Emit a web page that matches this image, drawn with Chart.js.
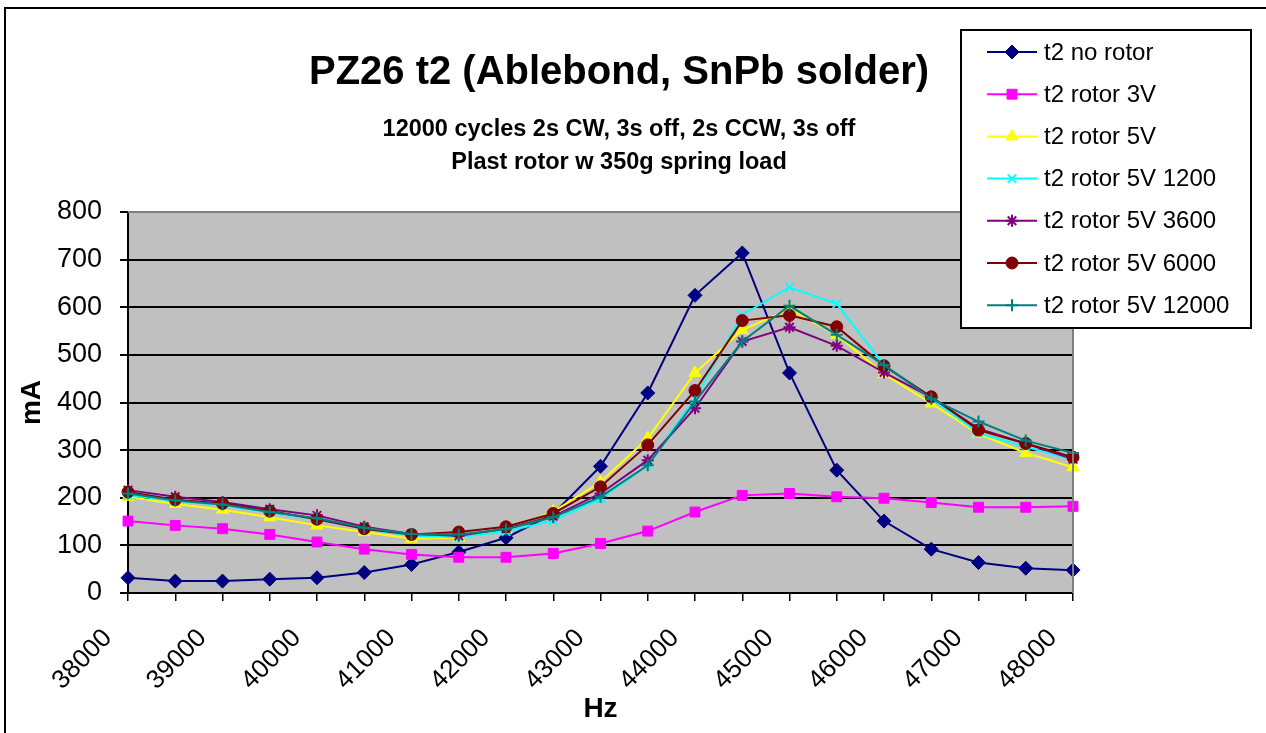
<!DOCTYPE html>
<html lang="en">
<head>
<meta charset="UTF-8">
<title>PZ26 t2 (Ablebond, SnPb solder)</title>
<script src="https://cdn.jsdelivr.net/npm/chart.js@4.4.0/dist/chart.umd.min.js"></script>
<style>
  body { margin: 0; background: #fff; }
  canvas { display: block; }
</style>
</head>
<body>
<canvas id="myChart" width="1266" height="733"></canvas>
<script>
// frequencies (Hz), one point every 500 Hz
const hz = ['38000', '38500', '39000', '39500', '40000', '40500', '41000', '41500', '42000', '42500', '43000',
            '43500', '44000', '44500', '45000', '45500', '46000', '46500', '47000', '47500', '48000'];

// current in mA
const noRotor      = [32, 25, 25, 29, 32, 43, 60, 86, 116, 166, 266, 420, 625, 714, 462, 258, 151, 92, 64, 52, 48];
const rotor3V      = [151, 142, 135, 123, 107, 92, 81, 75, 75, 83, 104, 130, 170, 205, 209, 202, 199, 190, 180, 180, 182];
const rotor5V      = [202, 187, 175, 159, 142, 128, 114, 116, 133, 171, 233, 325, 462, 552, 596, 542, 460, 398, 334, 294, 264];
const rotor5V1200  = [205, 193, 185, 169, 155, 135, 120, 117, 129, 152, 198, 268, 409, 584, 642, 607, 479, 408, 336, 307, 280];
const rotor5V3600  = [216, 202, 191, 176, 163, 139, 124, 120, 135, 161, 209, 279, 388, 528, 558, 519, 463, 411, 345, 314, 281];
const rotor5V6000  = [212, 196, 188, 172, 155, 135, 123, 128, 139, 167, 223, 311, 425, 572, 583, 559, 477, 412, 342, 314, 285];
const rotor5V12000 = [209, 194, 186, 170, 157, 137, 124, 123, 134, 159, 202, 268, 402, 528, 603, 542, 479, 408, 360, 320, 294];

const seriesNames = ['t2 no rotor', 't2 rotor 3V', 't2 rotor 5V', 't2 rotor 5V 1200', 't2 rotor 5V 3600', 't2 rotor 5V 6000', 't2 rotor 5V 12000'];
const seriesData = [noRotor, rotor3V, rotor5V, rotor5V1200, rotor5V3600, rotor5V6000, rotor5V12000];
const seriesColors = ['#000080', '#FF00FF', '#FFFF00', '#00FFFF', '#800080', '#800000', '#008080'];
const seriesMarkers = ['rectRot', 'rect', 'triangle', 'crossRot', 'star', 'circle', 'cross'];
const markerSizes = [7, 7, 7, 6, 6, 6, 6];

const yTicks = [0, 100, 200, 300, 400, 500, 600, 700, 800];

const titleText = 'PZ26 t2 (Ablebond, SnPb solder)';
const subtitleLines = ['12000 cycles 2s CW, 3s off, 2s CCW, 3s off', 'Plast rotor w 350g spring load'];

Chart.defaults.font.family = 'Arial, "Liberation Sans", sans-serif';
Chart.defaults.color = '#000';

const datasets = seriesData.map((d, i) => ({
    label: seriesNames[i],
    data: d,
    borderColor: seriesColors[i],
    backgroundColor: seriesColors[i],
    borderWidth: 2,
    pointStyle: seriesMarkers[i],
    pointRadius: markerSizes[i],
    pointHoverRadius: markerSizes[i],
    pointBorderWidth: (i >= 3 && i != 5) ? 2 : 1,
    tension: 0,
    order: seriesData.length - 1 - i   // later series drawn on top, like the original
}));

// grey plot area, outer frame, titles and legend box
const frame = {
    id: 'frame',
    beforeDraw(chart) {
        const ctx = chart.ctx;
        const a = chart.chartArea;
        ctx.save();
        ctx.fillStyle = '#fff';
        ctx.fillRect(0, 0, chart.width, chart.height);
        ctx.fillStyle = '#C0C0C0';
        ctx.fillRect(a.left, a.top, a.right - a.left, a.bottom - a.top);
        ctx.restore();
    },
    afterDatasetsDraw(chart) {
        const ctx = chart.ctx;
        const a = chart.chartArea;
        ctx.save();
        // plot border on top/right
        ctx.strokeStyle = '#808080';
        ctx.lineWidth = 2;
        ctx.beginPath();
        ctx.moveTo(a.left, a.top);
        ctx.lineTo(a.right, a.top);
        ctx.lineTo(a.right, a.bottom);
        ctx.stroke();

        // outer chart frame
        ctx.strokeStyle = '#000';
        ctx.lineWidth = 2;
        ctx.strokeRect(5, 8, 1400, 900);

        // titles
        ctx.fillStyle = '#000';
        ctx.textAlign = 'center';
        ctx.textBaseline = 'alphabetic';
        ctx.font = 'bold 40px Arial, "Liberation Sans", sans-serif';
        ctx.fillText(titleText, 619, 84);
        ctx.font = 'bold 23.5px Arial, "Liberation Sans", sans-serif';
        ctx.fillText(subtitleLines[0], 619, 136);
        ctx.fillText(subtitleLines[1], 619, 169);

        // legend box
        const lx = 961, ly = 30, lw = 290, lh = 298;
        ctx.fillStyle = '#fff';
        ctx.fillRect(lx, ly, lw, lh);
        ctx.strokeStyle = '#000';
        ctx.lineWidth = 2;
        ctx.strokeRect(lx, ly, lw, lh);
        ctx.font = '24px Arial, "Liberation Sans", sans-serif';
        ctx.textAlign = 'left';
        ctx.textBaseline = 'middle';
        chart.data.datasets.forEach((ds, i) => {
            const y = 52 + i * 42.2;
            ctx.strokeStyle = ds.borderColor;
            ctx.lineWidth = 2;
            ctx.beginPath();
            ctx.moveTo(987, y);
            ctx.lineTo(1037, y);
            ctx.stroke();
            ctx.fillStyle = ds.backgroundColor;
            ctx.lineWidth = ds.pointBorderWidth;
            Chart.helpers.drawPoint(ctx, {
                pointStyle: ds.pointStyle,
                radius: ds.pointRadius,
                rotation: 0,
                borderWidth: ds.pointBorderWidth
            }, 1012, y);
            ctx.fillStyle = '#000';
            ctx.fillText(ds.label, 1044, y + 1);
        });
        ctx.restore();
    }
};

const ctx = document.getElementById('myChart').getContext('2d');
const myChart = new Chart(ctx, {
    type: 'line',
    data: {
        labels: hz,
        datasets: datasets
    },
    options: {
        responsive: false,
        animation: false,
        layout: {
            padding: { left: 0, top: 212, right: 193, bottom: 0 }
        },
        plugins: {
            legend: { display: false },
            title: { display: false },
            tooltip: { enabled: false }
        },
        scales: {
            x: {
                offset: false,
                afterFit: scale => { scale.height = 140; },
                grid: {
                    drawOnChartArea: false,
                    drawTicks: true,
                    tickLength: 8,
                    color: '#000',
                    lineWidth: 1.5
                },
                border: { display: true, color: '#000', width: 2 },
                ticks: {
                    autoSkip: false,
                    minRotation: 45,
                    maxRotation: 45,
                    labelOffset: -20,
                    padding: 22,
                    font: { size: 26 },
                    callback: (v, i) => (i % 2 === 0 ? hz[i] : '')
                },
                title: {
                    display: true,
                    text: 'Hz',
                    font: { size: 28, weight: 'bold' },
                    padding: { top: 0, bottom: 7 }
                }
            },
            y: {
                min: 0,
                max: 800,
                afterFit: scale => { scale.width = 128; },
                afterBuildTicks: scale => { scale.ticks = yTicks.map(v => ({ value: v })); },
                grid: {
                    color: c => (c.tick.value === 800 ? '#808080' : '#000'),
                    tickColor: '#000',
                    lineWidth: 2,
                    tickLength: 8
                },
                border: { display: true, color: '#000', width: 2 },
                ticks: {
                    padding: 18,
                    font: { size: 27 }
                },
                title: {
                    display: true,
                    text: 'mA',
                    font: { size: 28, weight: 'bold' },
                    padding: { top: 15, bottom: 0 }
                }
            }
        }
    },
    plugins: [frame]
});
</script>
</body>
</html>
